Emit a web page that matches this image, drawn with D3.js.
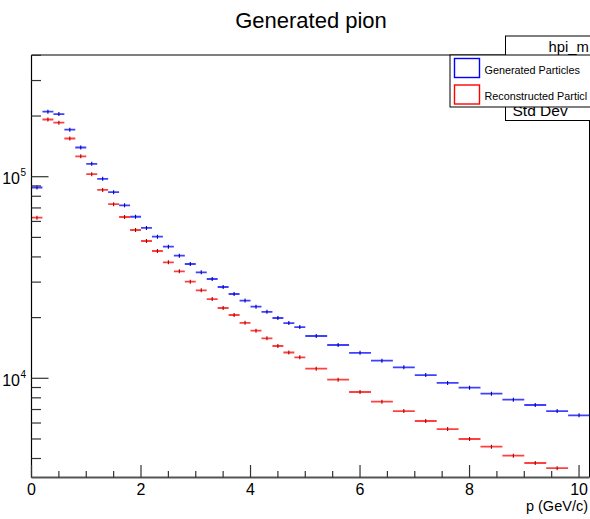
<!DOCTYPE html>
<html lang="en">
<head>
<meta charset="UTF-8">
<title>Generated pion</title>
<style>
    body {
        margin: 0;
        background: #fff;
    }
    svg {
        display: block;
        font-family: 'Liberation Sans', Arial, Helvetica, sans-serif;
    }
</style>
</head>
<body>
<svg id="chart" width="590" height="519"></svg>
<script src="https://d3js.org/d3.v7.min.js"></script>
<script>
    // Bin edges in p (GeV/c): 0.2 wide up to 5, then 0.4 wide
    const binEdges = [0, 0.2, 0.4, 0.6, 0.8, 1.0, 1.2, 1.4, 1.6, 1.8, 2.0,
        2.2, 2.4, 2.6, 2.8, 3.0, 3.2, 3.4, 3.6, 3.8, 4.0, 4.2, 4.4, 4.6, 4.8, 5.0,
        5.4, 5.8, 6.2, 6.6, 7.0, 7.4, 7.8, 8.2, 8.6, 9.0, 9.4, 9.8, 10.2];

    // Counts per bin
    const generated = [88400, 210100, 204600, 171100, 139600, 115900, 97600, 83800,
        72100, 63300, 55700, 50400, 44950, 40560, 36900, 33560, 31090, 28370, 26190,
        24310, 22650, 21370, 19910, 18800, 17960, 16210, 14630, 13380, 12230, 11340,
        10380, 9480, 8980, 8390, 7830, 7370, 6880, 6550];
    const reconstructed = [62600, 192200, 185300, 154700, 126200, 102900, 85950, 73040,
        63110, 54400, 47980, 42800, 37620, 33950, 30140, 27320, 24730, 22320, 20600,
        18850, 17220, 15790, 14460, 13430, 12710, 11160, 9840, 8550, 7660, 6880,
        6140, 5600, 5000, 4580, 4130, 3800, 3580, 3150];

    const xMajorTicks = [0, 2, 4, 6, 8, 10];
    // legend and stats texts as far as they show before the canvas edge
    const seriesNames = ["Generated Particles", "Reconstructed Particl"];
    const seriesColors = ["#0000ff", "#ff0000"];

    const width = 590, height = 519;
    const frame = { left: 31.5, right: 589.5, top: 55, bottom: 477.5 };

    const svg = d3.select("#chart");

    const x = d3.scaleLinear().domain([0, 10.2]).range([frame.left, 590]);
    const y = d3.scaleLog().domain([3220, 401600]).range([frame.bottom, frame.top]);

    // Title
    svg.append("text")
        .attr("x", 311).attr("y", 27.5)
        .attr("text-anchor", "middle")
        .style("font-size", "22px")
        .text("Generated pion");

    // Clip for data inside the frame
    svg.append("clipPath").attr("id", "plotClip")
        .append("rect")
        .attr("x", frame.left).attr("y", frame.top)
        .attr("width", frame.right - frame.left).attr("height", frame.bottom - frame.top);

    // Histograms
    const plot = svg.append("g").attr("clip-path", "url(#plotClip)");
    [generated, reconstructed].forEach((counts, s) => {
        const bins = counts.map((v, i) => ({ lo: binEdges[i], hi: binEdges[i + 1], v: v }));
        const g = plot.append("g");
        g.selectAll("line.h")
            .data(bins)
            .join("line")
            .attr("class", "h")
            .attr("x1", d => x(d.lo))
            .attr("x2", d => x(d.hi))
            .attr("y1", d => y(d.v))
            .attr("y2", d => y(d.v))
            .attr("stroke", seriesColors[s])
            .attr("stroke-opacity", 0.75)
            .attr("stroke-width", 1.8);
        // error bars (sqrt N), drawn at least a couple of pixels tall
        g.selectAll("line.e")
            .data(bins)
            .join("line")
            .attr("class", "e")
            .attr("x1", d => x((d.lo + d.hi) / 2))
            .attr("x2", d => x((d.lo + d.hi) / 2))
            .attr("y1", d => Math.min(y(d.v + Math.sqrt(d.v)), y(d.v) - 2))
            .attr("y2", d => Math.max(y(d.v - Math.sqrt(d.v)), y(d.v) + 2))
            .attr("stroke", d3.color(seriesColors[s]).darker(1.2))
            .attr("stroke-width", 1.1);
    });

    // Frame
    svg.append("line")
        .attr("x1", frame.left).attr("x2", frame.right)
        .attr("y1", frame.top).attr("y2", frame.top)
        .attr("stroke", "#555").attr("stroke-width", 1.6);
    svg.append("line")
        .attr("x1", frame.right).attr("x2", frame.right)
        .attr("y1", frame.top).attr("y2", frame.bottom)
        .attr("stroke", "#000").attr("stroke-width", 1);

    // Y axis (ticks inside the frame)
    const yTicks = y.ticks();
    const yAxis = svg.append("g");
    yAxis.append("line")
        .attr("x1", frame.left).attr("x2", frame.left)
        .attr("y1", frame.top).attr("y2", frame.bottom)
        .attr("stroke", "#000").attr("stroke-width", 1.2);
    yAxis.selectAll("line.tick")
        .data(yTicks)
        .join("line")
        .attr("class", "tick")
        .attr("x1", frame.left)
        .attr("x2", d => frame.left + (Number.isInteger(Math.log10(d)) ? 17 : 9.5))
        .attr("y1", d => y(d))
        .attr("y2", d => y(d))
        .attr("stroke", "#333").attr("stroke-width", 1.2);
    const yLabels = yAxis.selectAll("text")
        .data(yTicks.filter(d => Number.isInteger(Math.log10(d))))
        .join("text")
        .attr("x", 20)
        .attr("y", d => y(d) + 7.5)
        .attr("text-anchor", "end")
        .style("font-size", "16px");
    yLabels.append("tspan").text("10");
    yLabels.append("tspan")
        .attr("x", 20.5)
        .attr("dy", -8)
        .attr("text-anchor", "start")
        .style("font-size", "10px")
        .text(d => Math.round(Math.log10(d)));

    // X axis (ticks inside the frame)
    const xAxis = svg.append("g");
    xAxis.append("line")
        .attr("x1", frame.left).attr("x2", frame.right)
        .attr("y1", frame.bottom).attr("y2", frame.bottom)
        .attr("stroke", "#555").attr("stroke-width", 1.8);
    xAxis.selectAll("line.tick")
        .data(d3.range(0, 10.01, 0.5))
        .join("line")
        .attr("class", "tick")
        .attr("x1", d => x(d)).attr("x2", d => x(d))
        .attr("y1", frame.bottom)
        .attr("y2", d => frame.bottom - (xMajorTicks.includes(d) ? 12.5 : 6.5))
        .attr("stroke", "#333").attr("stroke-width", 1.2);
    xAxis.selectAll("text")
        .data(xMajorTicks)
        .join("text")
        .attr("x", d => x(d))
        .attr("y", 495)
        .attr("text-anchor", "middle")
        .style("font-size", "16px")
        .text(d => d);
    svg.append("text")
        .attr("x", 588).attr("y", 511)
        .attr("text-anchor", "end")
        .style("font-size", "14.5px")
        .text("p (GeV/c)");

    // Stats box (mostly hidden behind the legend and the canvas edge)
    const stats = svg.append("g");
    stats.append("rect")
        .attr("x", 505.5).attr("y", 36)
        .attr("width", 100).attr("height", 84.5)
        .attr("fill", "#fff").attr("stroke", "#000").attr("stroke-width", 1);
    stats.append("text")
        .attr("x", 548.5).attr("y", 52)
        .style("font-size", "14.8px")
        .text("hpi_m");
    stats.append("text")
        .attr("x", 512.5).attr("y", 116)
        .style("font-size", "15.5px")
        .text("Std Dev");

    // Legend
    const legend = svg.append("g");
    legend.append("rect")
        .attr("x", 450).attr("y", 55)
        .attr("width", 160).attr("height", 52)
        .attr("fill", "#fff").attr("stroke", "#000").attr("stroke-width", 1);
    const entries = legend.selectAll("g.entry")
        .data(seriesNames)
        .join("g")
        .attr("class", "entry")
        .attr("transform", (d, i) => `translate(0, ${i * 26.5})`);
    entries.append("rect")
        .attr("x", 454.5).attr("y", 58.5)
        .attr("width", 25).attr("height", 19)
        .attr("fill", "none")
        .attr("stroke", (d, i) => seriesColors[i])
        .attr("stroke-width", 1.4);
    entries.append("text")
        .attr("x", 484.5).attr("y", 73.5)
        .style("font-size", "10.8px")
        .text(d => d);
</script>
</body>
</html>
